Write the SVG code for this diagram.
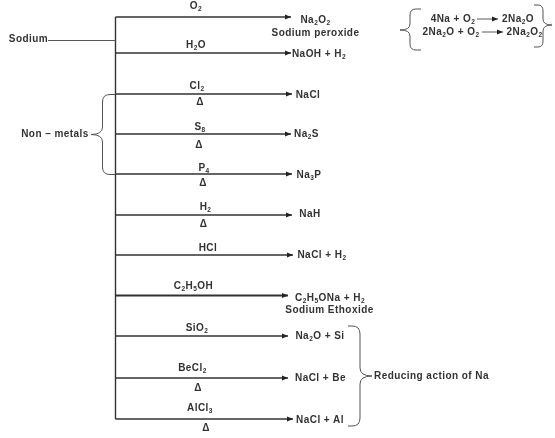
<svg xmlns="http://www.w3.org/2000/svg" width="555" height="438" viewBox="0 0 555 438">
<style>
text{font-family:"Liberation Sans",Arial,sans-serif;font-size:10px;font-weight:bold;letter-spacing:.45px;fill:#333;text-anchor:middle}
.s{font-size:6.5px}
.l{fill:none;stroke:#333;stroke-width:1.4}
.b{fill:none;stroke:#555;stroke-width:1}
</style>
<defs>
<marker id="a" markerWidth="7" markerHeight="6" refX="6" refY="3" orient="auto" markerUnits="userSpaceOnUse"><path d="M0 0.5L6 3L0 5.500z" fill="#222"/></marker>
<filter id="f" x="-5%" y="-5%" width="110%" height="110%"><feGaussianBlur stdDeviation="0.4"/></filter>
</defs>
<g filter="url(#f)">
<g id="connectors">
<path class="l" d="M115.500 17V419"/>
<path class="l" style="stroke-width:1;stroke:#555" d="M48 40.500H115.500"/>
<path class="l" marker-end="url(#a)" d="M115.500 17H291"/>
<path class="l" marker-end="url(#a)" d="M115.500 53H291"/>
<path class="l" marker-end="url(#a)" d="M115.500 94H292"/>
<path class="l" marker-end="url(#a)" d="M115.500 134H291"/>
<path class="l" marker-end="url(#a)" d="M115.500 174H292"/>
<path class="l" marker-end="url(#a)" d="M115.500 215H292"/>
<path class="l" marker-end="url(#a)" d="M115.500 255H293"/>
<path class="l" marker-end="url(#a)" style="stroke-width:1.8" d="M115.500 295.500H288"/>
<path class="l" marker-end="url(#a)" d="M115.500 336H288"/>
<path class="l" marker-end="url(#a)" d="M115.500 378H288"/>
<path class="l" marker-end="url(#a)" d="M115.500 419H293"/>
<path class="l" marker-end="url(#a)" style="stroke-width:.8" d="M477 19H498"/>
<path class="l" marker-end="url(#a)" style="stroke-width:.8" d="M482 32H503"/>
</g>
<g id="brace-nonmetals"><path class="b" d="M115 94.500H110Q102.500 94.500 102.500 102V127Q102.500 134.500 91 134.500Q102.500 134.500 102.500 142V167Q102.500 174.500 110 174.500H115"/></g>
<g id="brace-formation-left"><path class="b" d="M421 9H416Q410 9 410 15V24Q410 30 400 30Q410 30 410 36V44Q410 50 416 50H421"/></g>
<g id="brace-formation-right"><path class="b" d="M534 5H538Q543 5 543 11V19Q543 25 552 25Q543 25 543 31V41Q543 47 538 47H534"/></g>
<g id="brace-reducing"><path class="b" d="M348 326H352Q360 326 360 334V368Q360 376 372 376Q360 376 360 384V418Q360 426 352 426H348"/></g>
<g id="sodium"><text x="28.500" y="42">Sodium</text></g>
<g id="nonmetals"><text x="55" y="137">Non – metals</text></g>
<g id="reagents">
<text x="196" y="9">O<tspan class="s" dy="2">2</tspan></text>
<text x="196" y="48">H<tspan class="s" dy="2">2</tspan><tspan dy="-2">O</tspan></text>
<text x="197" y="89">Cl<tspan class="s" dy="2">2</tspan></text>
<text x="200" y="105">Δ</text>
<text x="200" y="130">S<tspan class="s" dy="2">8</tspan></text>
<text x="199" y="148">Δ</text>
<text x="204" y="171">P<tspan class="s" dy="2">4</tspan></text>
<text x="203" y="186">Δ</text>
<text x="205.500" y="210">H<tspan class="s" dy="2">2</tspan></text>
<text x="203.500" y="227">Δ</text>
<text x="208" y="251">HCl</text>
<text x="193.500" y="288.500">C<tspan class="s" dy="2">2</tspan><tspan dy="-2">H</tspan><tspan class="s" dy="2">5</tspan><tspan dy="-2">OH</tspan></text>
<text x="197" y="331">SiO<tspan class="s" dy="2">2</tspan></text>
<text x="192.500" y="370.500">BeCl<tspan class="s" dy="2">2</tspan></text>
<text x="198" y="391">Δ</text>
<text x="200" y="411">AlCl<tspan class="s" dy="2">3</tspan></text>
<text x="206" y="431">Δ</text>
</g>
<g id="products">
<text x="315.500" y="23">Na<tspan class="s" dy="2">2</tspan><tspan dy="-2">O</tspan><tspan class="s" dy="2">2</tspan></text>
<text x="315.500" y="35.500">Sodium peroxide</text>
<text x="319" y="56.500">NaOH + H<tspan class="s" dy="2">2</tspan></text>
<text x="308" y="97.500">NaCl</text>
<text x="306.500" y="137">Na<tspan class="s" dy="2">2</tspan><tspan dy="-2">S</tspan></text>
<text x="309" y="178">Na<tspan class="s" dy="2">3</tspan><tspan dy="-2">P</tspan></text>
<text x="310" y="217">NaH</text>
<text x="322" y="258">NaCl + H<tspan class="s" dy="2">2</tspan></text>
<text x="330" y="300.500">C<tspan class="s" dy="2">2</tspan><tspan dy="-2">H</tspan><tspan class="s" dy="2">5</tspan><tspan dy="-2">ONa + H</tspan><tspan class="s" dy="2">2</tspan></text>
<text x="329.500" y="312.500">Sodium Ethoxide</text>
<text x="320" y="339">Na<tspan class="s" dy="2">2</tspan><tspan dy="-2">O + Si</tspan></text>
<text x="320.500" y="381">NaCl + Be</text>
<text x="320" y="422.500">NaCl + Al</text>
<text x="431.500" y="378.500">Reducing action of Na</text>
</g>
<g id="formation">
<text x="453" y="22">4Na + O<tspan class="s" dy="2">2</tspan></text>
<text x="518" y="22">2Na<tspan class="s" dy="2">2</tspan><tspan dy="-2">O</tspan></text>
<text x="451" y="35">2Na<tspan class="s" dy="2">2</tspan><tspan dy="-2">O + O</tspan><tspan class="s" dy="2">2</tspan></text>
<text x="524.500" y="35">2Na<tspan class="s" dy="2">2</tspan><tspan dy="-2">O</tspan><tspan class="s" dy="2">2</tspan></text>
</g>
</g>
</svg>
